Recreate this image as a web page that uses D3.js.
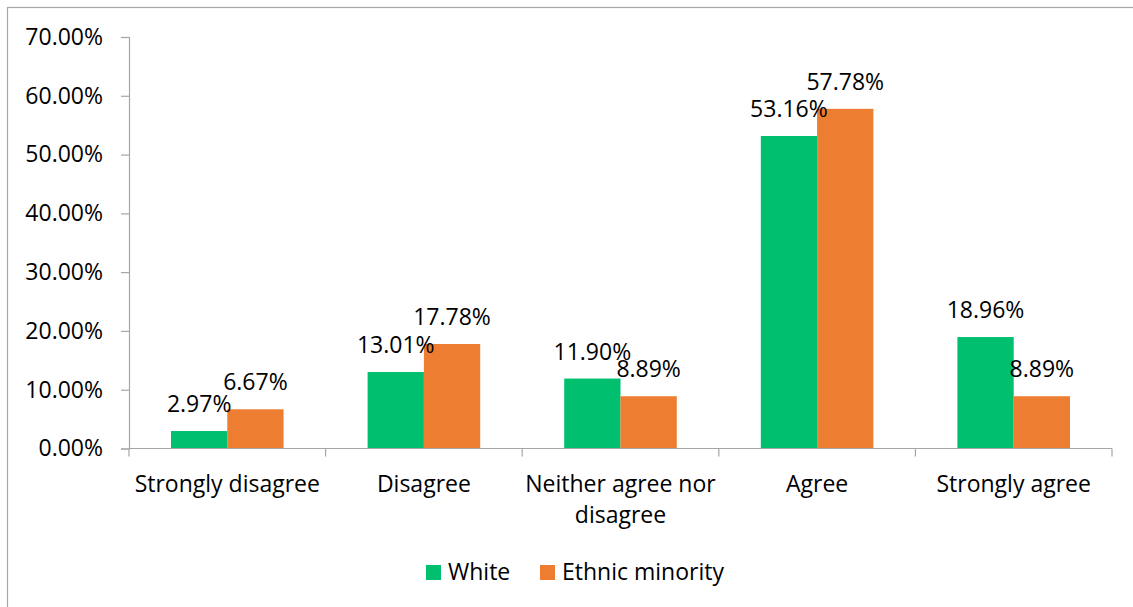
<!DOCTYPE html>
<html><head><meta charset="utf-8">
<script src="https://cdn.jsdelivr.net/npm/d3@7"></script>
<style>
html,body{margin:0;padding:0;background:#fff;overflow:hidden;}
text{font-family:"Open Sans",sans-serif;fill:#000;}
</style></head>
<body><svg id="c" width="1133" height="607"></svg>
<script>
const categories = ["Strongly disagree","Disagree","Neither agree nor disagree","Agree","Strongly agree"];
const categoryLines = [["Strongly disagree"],["Disagree"],["Neither agree nor","disagree"],["Agree"],["Strongly agree"]];
const seriesNames = ["White","Ethnic minority"];
const white = [2.97, 13.01, 11.90, 53.16, 18.96];
const ethnic = [6.67, 17.78, 8.89, 57.78, 8.89];
const yTicks = [0,10,20,30,40,50,60,70];
const colors = ["#00BF6F","#ED7D31"];

const svg = d3.select("#c");
const FS = 23;
// outer frame
svg.append("rect").attr("x",7.5).attr("y",7.5).attr("width",1200).attr("height",700)
  .attr("fill","none").attr("stroke","#a6a6a6").attr("stroke-width",1.2);

const pLeft=129, pRight=1112, pTop=37, pBottom=448.5;
const x0 = d3.scaleBand().domain(categories).range([pLeft,pRight]).paddingInner(0).paddingOuter(0);
const gap = 0.2137;
const x1 = d3.scaleBand().domain(seriesNames).range([0,x0.bandwidth()*(1-2*gap)]);
const y = d3.scaleLinear().domain([0,70]).range([pBottom,pTop]);
const series = [white, ethnic];

// bars
categories.forEach((c,i)=>{
  seriesNames.forEach((s,j)=>{
    const v = series[j][i];
    const bx = x0(c)+x0.bandwidth()*gap+x1(s);
    svg.append("rect").attr("x",bx).attr("y",y(v)).attr("width",x1.bandwidth()).attr("height",y(0)-y(v))
      .attr("fill",colors[j]);
  });
});

// y axis
const ya = svg.append("g").attr("transform",`translate(${pLeft},0)`)
  .call(d3.axisLeft(y).tickValues(yTicks).tickSize(8).tickPadding(18).tickFormat(d=>d.toFixed(2)+"%"));
ya.select(".domain").attr("stroke","#a6a6a6").attr("stroke-width",1.2);
ya.selectAll(".tick line").attr("stroke","#a6a6a6").attr("stroke-width",1.2);
ya.selectAll(".tick text").attr("font-family","Open Sans").attr("font-size",FS).attr("fill","#000");

// x axis
const xa = svg.append("g").attr("transform",`translate(0,${pBottom})`);
xa.append("line").attr("x1",pLeft).attr("x2",pRight).attr("y1",0).attr("y2",0).attr("stroke","#a6a6a6").attr("stroke-width",1.2);
const bounds = categories.map(c=>x0(c)).concat([pRight]);
xa.selectAll("line.t").data(bounds).join("line").attr("class","t")
  .attr("x1",d=>d).attr("x2",d=>d).attr("y1",0).attr("y2",8).attr("stroke","#a6a6a6").attr("stroke-width",1.2);
categories.forEach((c,i)=>{
  categoryLines[i].forEach((ln,k)=>{
    xa.append("text").attr("x",x0(c)+x0.bandwidth()/2).attr("y",43+k*31)
      .attr("text-anchor","middle").attr("font-size",FS).text(ln);
  });
});

// labels
categories.forEach((c,i)=>{
  seriesNames.forEach((s,j)=>{
    const v = series[j][i];
    const bx = x0(c)+x0.bandwidth()*gap+x1(s)+x1.bandwidth()/2;
    svg.append("text").attr("x",bx).attr("y",y(v)-19).attr("text-anchor","middle")
      .attr("font-size",FS).text(v.toFixed(2)+"%");
  });
});

// legend
const legX = [426, 540];
seriesNames.forEach((s,j)=>{
  svg.append("rect").attr("x",legX[j]).attr("y",565).attr("width",15).attr("height",15).attr("fill",colors[j]);
  svg.append("text").attr("x",legX[j]+22).attr("y",580).attr("font-size",FS).text(s);
});
</script></body></html>
